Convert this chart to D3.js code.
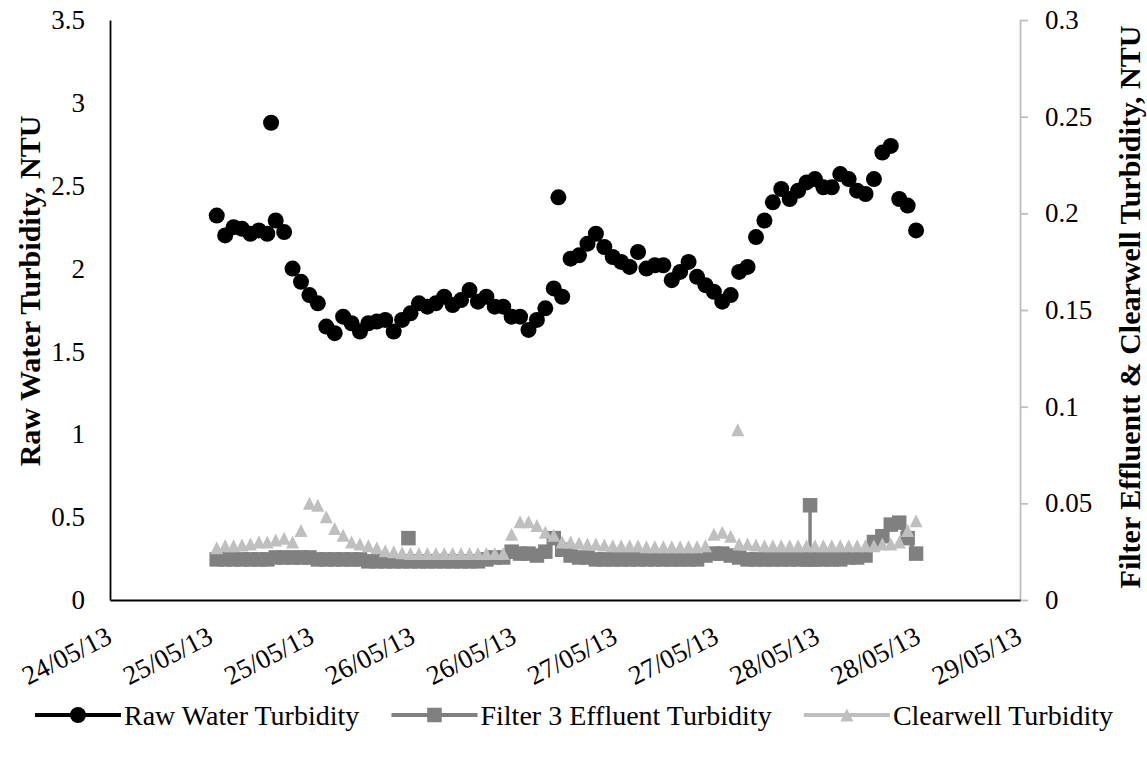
<!DOCTYPE html>
<html>
<head>
<meta charset="utf-8">
<script src="https://cdn.jsdelivr.net/npm/d3@7"></script>
<style>
  html, body { margin: 0; padding: 0; background: #fff; }
  svg { display: block; }
  text { font-family: "Liberation Serif", "Times New Roman", serif; fill: #000; }
</style>
</head>
<body>
<svg id="chart" width="1147" height="757"></svg>
<script>
// ---------------- DATA ----------------
const seriesNames = ["Raw Water Turbidity", "Filter 3 Effluent Turbidity", "Clearwell Turbidity"];
const leftTitle = "Raw Water Turbidity, NTU";
const rightTitle = "Filter Effluentt & Clearwell Turbidity, NTU";

// hourly readings starting at this time
const firstReading = "2013-05-25 00:40";

const rawValues = [
  2.32, 2.20, 2.25, 2.24, 2.21, 2.23, 2.21, 2.29, 2.22, 2.00,
  1.92, 1.84, 1.79, 1.65, 1.61, 1.71, 1.67, 1.62, 1.67, 1.68,
  1.69, 1.62, 1.69, 1.73, 1.79, 1.77, 1.79, 1.83, 1.78, 1.81,
  1.87, 1.80, 1.83, 1.77, 1.77, 1.71, 1.71, 1.63, 1.69, 1.76,
  1.88, 1.83, 2.06, 2.08, 2.15, 2.21, 2.13, 2.07, 2.04, 2.01,
  2.10, 2.00, 2.02, 2.02, 1.93, 1.98, 2.04, 1.95, 1.90, 1.86,
  1.80, 1.84, 1.98, 2.01, 2.19, 2.29, 2.40, 2.48, 2.42, 2.47,
  2.52, 2.54, 2.49, 2.49, 2.57, 2.54, 2.47, 2.45, 2.54, 2.70,
  2.74, 2.42, 2.38, 2.23
];
const rawExtraTimes = ["2013-05-25 07:07", "2013-05-26 17:13"];
const rawExtraValues = [2.88, 2.43];

const filterValues = [
  0.021, 0.021, 0.021, 0.021, 0.021, 0.021, 0.021, 0.022, 0.022, 0.022,
  0.022, 0.022, 0.021, 0.021, 0.021, 0.021, 0.021, 0.021, 0.020, 0.020,
  0.020, 0.020, 0.020, 0.020, 0.020, 0.020, 0.020, 0.020, 0.020, 0.020,
  0.020, 0.020, 0.021, 0.022, 0.022, 0.025, 0.024, 0.024, 0.023, 0.025,
  0.032, 0.026, 0.023, 0.022, 0.022, 0.021, 0.021, 0.021, 0.021, 0.021,
  0.021, 0.021, 0.021, 0.021, 0.021, 0.021, 0.021, 0.021, 0.023, 0.024,
  0.024, 0.023, 0.022, 0.021, 0.021, 0.021, 0.021, 0.021, 0.021, 0.021,
  0.021, 0.021, 0.021, 0.021, 0.021, 0.022, 0.022, 0.023, 0.030, 0.033,
  0.039, 0.040, 0.032, 0.024
];
const filterExtraTimes = ["2013-05-25 23:25"];
const filterExtraValues = [0.032];
const filterSpikeTime = "2013-05-27 23:05";
const filterSpikeValues = [0.021, 0.049];

const clearValues = [
  0.027, 0.028, 0.028, 0.0285, 0.029, 0.030, 0.030, 0.031, 0.032, 0.030,
  0.036, 0.050, 0.049, 0.043, 0.037, 0.0335, 0.030, 0.029, 0.028, 0.027,
  0.0255, 0.025, 0.0245, 0.024, 0.024, 0.024, 0.024, 0.024, 0.024, 0.024,
  0.024, 0.024, 0.024, 0.024, 0.024, 0.034, 0.0405, 0.0405, 0.0385, 0.035,
  0.0335, 0.030, 0.030, 0.0295, 0.029, 0.029, 0.0285, 0.028, 0.028, 0.028,
  0.028, 0.0275, 0.0275, 0.0275, 0.0275, 0.0275, 0.0275, 0.0275, 0.028, 0.034,
  0.035, 0.033, 0.029, 0.029, 0.0285, 0.028, 0.028, 0.028, 0.028, 0.028,
  0.028, 0.028, 0.028, 0.028, 0.028, 0.028, 0.028, 0.028, 0.028, 0.029,
  0.029, 0.030, 0.036, 0.041
];
const clearExtraTimes = ["2013-05-27 14:30"];
const clearExtraValues = [0.088];

const xDomain = ["2013-05-24 12:00", "2013-05-29 00:00"];
const xTickStepHours = 12;
const leftTicks = [0, 0.5, 1, 1.5, 2, 2.5, 3, 3.5];
const rightTicks = [0, 0.05, 0.1, 0.15, 0.2, 0.25, 0.3];

// ---------------- CHART ----------------
const parse = d3.timeParse("%Y-%m-%d %H:%M");
const t0 = parse(firstReading);
const hourly = vals => vals.map((v, i) => ({ t: d3.timeHour.offset(t0, i), v }));
const pairs = (times, vals) => times.map((s, i) => ({ t: parse(s), v: vals[i] }));

const rawData = hourly(rawValues).concat(pairs(rawExtraTimes, rawExtraValues)).sort((a, b) => a.t - b.t);
const filterData = hourly(filterValues);
const filterExtra = pairs(filterExtraTimes, filterExtraValues);
const filterSpike = filterSpikeValues.map(v => ({ t: parse(filterSpikeTime), v }));
const clearData = hourly(clearValues).concat(pairs(clearExtraTimes, clearExtraValues)).sort((a, b) => a.t - b.t);

const M = { left: 110, right: 1020, top: 20, bottom: 600 };
const svg = d3.select("#chart");

const x = d3.scaleTime().domain(xDomain.map(parse)).range([M.left, M.right]);
const yL = d3.scaleLinear().domain([0, 3.5]).range([M.bottom, M.top]);
const yR = d3.scaleLinear().domain([0, 0.3]).range([M.bottom, M.top]);

const xTicks = d3.timeHour.every(xTickStepHours).range(x.domain()[0], d3.timeMinute.offset(x.domain()[1], 1));
const fmtNum = d => String(+d.toFixed(2));
const FS = 27;

// left axis
const gL = svg.append("g").attr("transform", `translate(${M.left},0)`)
  .call(d3.axisLeft(yL).tickValues(leftTicks).tickFormat(fmtNum).tickSize(0).tickPadding(25));
gL.select(".domain").attr("stroke", "#000").attr("stroke-width", 1.8);
gL.selectAll("text").style("font-size", FS + "px").style("font-family", "Liberation Serif");

// right axis
const gR = svg.append("g").attr("transform", `translate(${M.right},0)`)
  .call(d3.axisRight(yR).tickValues(rightTicks).tickFormat(fmtNum).tickSize(8).tickSizeOuter(0).tickPadding(17));
gR.select(".domain").attr("stroke", "#bfbfbf").attr("stroke-width", 1.8);
gR.selectAll(".tick line").attr("stroke", "#bfbfbf").attr("stroke-width", 1.8);
gR.selectAll("text").style("font-size", FS + "px").style("font-family", "Liberation Serif");

// bottom axis
const gB = svg.append("g").attr("transform", `translate(0,${M.bottom})`)
  .call(d3.axisBottom(x).tickValues(xTicks).tickFormat(d3.timeFormat("%d/%m/%y")).tickSize(0).tickSizeOuter(0));
gB.select(".domain").attr("stroke", "#000").attr("stroke-width", 1.8);
gB.selectAll("text")
  .style("font-size", FS + "px").style("font-family", "Liberation Serif")
  .attr("text-anchor", "end").attr("x", 3).attr("y", 42).attr("dy", 0)
  .attr("transform", "rotate(-27,3,42)");

// axis titles
svg.append("text").attr("transform", `translate(29,291) rotate(-90)`)
  .attr("text-anchor", "middle").attr("dy", "0.35em")
  .style("font-size", "30px").style("font-weight", "bold").text(leftTitle);
svg.append("text").attr("transform", `translate(1129,307) rotate(-90)`)
  .attr("text-anchor", "middle").attr("dy", "0.35em")
  .style("font-size", "30px").style("font-weight", "bold").text(rightTitle);

// markers
const colors = ["#000000", "#808080", "#bfbfbf"];
const R_CIRCLE = 8, SQ = 14.5, TRI = 13;
const triPath = s => `M0,${-s / 2}L${s / 2},${s / 2}L${-s / 2},${s / 2}Z`;

// raw water (primary)
svg.append("g").selectAll("circle").data(rawData).join("circle")
  .attr("cx", d => x(d.t)).attr("cy", d => yL(d.v)).attr("r", R_CIRCLE).attr("fill", colors[0]);

// filter 3 (secondary)
const lineR = d3.line().x(d => x(d.t)).y(d => yR(d.v));
svg.append("path").datum(filterData).attr("d", lineR)
  .attr("fill", "none").attr("stroke", colors[1]).attr("stroke-width", 3.5);
svg.append("path").datum(filterSpike).attr("d", lineR)
  .attr("fill", "none").attr("stroke", colors[1]).attr("stroke-width", 3.5);
svg.append("g").selectAll("rect").data(filterData.concat(filterExtra, filterSpike)).join("rect")
  .attr("x", d => x(d.t) - SQ / 2).attr("y", d => yR(d.v) - SQ / 2)
  .attr("width", SQ).attr("height", SQ).attr("fill", colors[1]);

// clearwell (secondary)
svg.append("g").selectAll("path").data(clearData).join("path")
  .attr("transform", d => `translate(${x(d.t)},${yR(d.v)})`)
  .attr("d", triPath(TRI)).attr("fill", colors[2]);

// legend (centred row)
const LY = 715, SYM = 86, TXT_GAP = 3, L_LEFT = 35, L_RIGHT = 1113, LFS = 28;
const lg = svg.append("g");
const entries = seriesNames.map((name, i) => {
  const g = lg.append("g");
  g.append("line").attr("x1", 0).attr("x2", SYM).attr("y1", LY).attr("y2", LY)
    .attr("stroke", colors[i]).attr("stroke-width", 4);
  const cx = SYM / 2;
  if (i === 0) g.append("circle").attr("cx", cx).attr("cy", LY).attr("r", R_CIRCLE).attr("fill", colors[0]);
  if (i === 1) g.append("rect").attr("x", cx - SQ / 2).attr("y", LY - SQ / 2).attr("width", SQ).attr("height", SQ).attr("fill", colors[1]);
  if (i === 2) g.append("path").attr("transform", `translate(${cx},${LY})`).attr("d", triPath(TRI)).attr("fill", colors[2]);
  const t = g.append("text").attr("x", SYM + TXT_GAP).attr("y", LY).attr("dy", "0.35em")
    .style("font-size", LFS + "px").text(name);
  return { g, w: SYM + TXT_GAP + t.node().getComputedTextLength() };
});
const totalW = d3.sum(entries, e => e.w);
const gap = (L_RIGHT - L_LEFT - totalW) / (entries.length - 1);
let cursor = L_LEFT;
entries.forEach(e => { e.g.attr("transform", `translate(${cursor},0)`); cursor += e.w + gap; });
</script>
</body>
</html>
